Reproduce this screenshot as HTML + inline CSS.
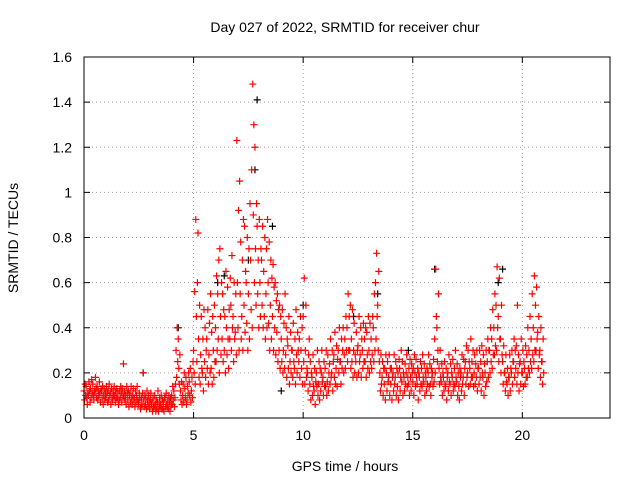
<!DOCTYPE html>
<html><head><meta charset="utf-8"><style>
html,body{margin:0;padding:0;background:#fff;}
svg{display:block;font-family:"Liberation Sans",sans-serif;}
</style></head><body>
<svg id="chart" width="640" height="480">
<text x="345" y="32" text-anchor="middle" font-size="14">Day 027 of 2022, SRMTID for receiver chur</text>
<text x="0" y="0" transform="translate(18,238) rotate(-90)" text-anchor="middle" font-size="14">SRMTID / TECUs</text>
<text x="345" y="471" text-anchor="middle" font-size="14">GPS time / hours</text>
<g id="grid"></g><g id="ticks"></g><g id="marks"></g>
<rect x="84" y="57" width="526" height="361" fill="none" stroke="#000" stroke-width="1"/>
</svg>
<script>
const xTicks=[0,5,10,15,20];
const yTicks=[0,0.2,0.4,0.6,0.8,1,1.2,1.4,1.6];
const yTickLabels=["0","0.2","0.4","0.6","0.8","1","1.2","1.4","1.6"];
const binHours=0.1;
const redBins=[
[12,8,15,10],[14,9,6,11],[10,16,12,7],[13,9,17,11],[15,10,8,12],[11,18,13,9],[14,8,12,10],[16,11,7,13],[12,9,14,6],[10,13,8,11],
[9,14,11,7],[12,8,15,10],[11,6,13,9],[8,12,10,14],[10,7,12,9],[13,9,11,6],[8,12,9,14],[11,7,13,10],[24,9,12,8],[10,6,14,11],
[8,12,5,10],[11,7,14,9],[6,10,13,8],[9,5,12,7],[10,14,8,6],[7,11,9,4],[5,9,6,11],[20,8,5,10],[6,9,4,12],[8,5,10,7],
[4,8,11,6],[7,3,9,5],[5,10,6,3],[8,4,7,12],[3,6,9,5],[6,10,4,8],[4,7,3,9],[9,5,11,6],[5,8,4,10],[7,3,9,6],
[10,6,14,8],[12,5,9,15],[30,18,40,25],[35,22,15,28],[12,8,16,6],[10,15,7,20],[13,9,18,6],[8,14,11,20],[16,10,22,7],[12,18,9,25],
[30,20,56,15],[88,45,25,60],[82,35,18,50],[15,28,45,22],[20,35,12,48],[25,40,18,30],[35,22,48,15],[28,42,20,55],[22,38,15,45],[30,18,50,25],
[40,25,63,30],[55,35,70,20],[75,45,28,60],[35,55,25,48],[30,45,20,65],[40,28,58,35],[22,48,35,62],[50,30,72,40],[45,25,60,35],[38,55,28,123],
[60,40,92,30],[105,55,78,35],[45,70,30,88],[50,85,38,65],[60,42,80,30],[55,75,35,95],[70,48,110,40],[148,90,130,60],[120,75,50,95],[85,55,70,40],
[88,60,45,75],[70,50,85,40],[65,45,80,35],[55,75,40,88],[60,42,78,30],[50,70,35,62],[45,68,30,58],[40,60,28,52],[38,55,25,48],[30,50,22,45],
[35,25,48,20],[30,42,22,55],[28,40,18,35],[32,22,45,15],[25,38,20,30],[30,18,42,25],[22,35,15,48],[28,20,38,30],[25,35,18,45],[30,22,40,15],
[45,25,62,15],[30,50,18,22],[20,12,28,35],[15,25,8,20],[18,10,28,14],[12,22,6,16],[20,14,30,10],[15,25,8,22],[12,20,30,16],[18,10,25,14],
[22,14,30,10],[16,28,12,20],[24,15,35,18],[20,30,12,25],[28,18,38,15],[22,32,14,26],[30,20,40,25],[25,15,35,22],[30,40,20,28],[35,22,45,30],
[40,25,55,30],[45,30,50,22],[35,25,48,18],[30,42,20,28],[25,38,18,30],[32,20,45,25],[28,40,18,35],[30,22,42,25],[35,25,40,18],[38,28,22,45],
[30,20,42,25],[35,22,28,45],[40,25,55,30],[60,35,73,45],[50,30,65,25],[20,12,28,15],[18,25,10,22],[15,22,8,28],[20,12,25,16],[18,28,10,22],
[15,22,8,18],[20,12,28,15],[18,25,10,22],[14,20,8,26],[22,12,18,30],[16,25,10,20],[18,12,24,15],[20,28,14,18],[15,22,10,26],[18,12,24,20],
[16,22,10,28],[20,14,26,18],[15,22,8,20],[18,12,25,15],[22,14,28,18],[16,24,10,20],[18,12,22,15],[20,28,14,24],[15,10,22,18],[20,14,26,16],
[35,20,66,45],[40,25,30,55],[22,15,30,18],[16,24,10,20],[18,12,25,15],[14,22,8,18],[20,12,28,16],[15,24,10,20],[18,26,12,15],[22,14,30,18],
[16,24,10,20],[14,8,22,18],[20,12,28,15],[18,26,10,22],[25,15,32,18],[20,30,14,25],[22,15,35,18],[25,18,30,14],[20,28,15,24],[18,30,12,22],
[22,15,30,18],[25,12,32,20],[18,28,10,24],[20,14,30,16],[25,35,18,30],[30,20,40,25],[35,22,48,28],[40,28,55,32],[50,30,67,40],[45,25,62,35],
[35,20,50,28],[25,15,32,20],[20,12,28,16],[15,22,10,18],[18,28,12,22],[20,30,15,25],[25,35,18,30],[22,32,15,50],[20,28,12,24],[25,15,35,20],
[20,30,14,25],[22,15,32,18],[28,18,40,22],[30,20,45,25],[35,22,55,28],[40,25,63,30],[50,30,58,35],[38,22,45,28],[30,18,40,25],[25,15,35,20]
];
const blackTimes=[7.9,7.8,6.4,16.0,2.7,4.3,9.0,14.8,19.1,10.0,12.3,6.1,8.6,7.5,18.9,13.4];
const blackValues=[1.41,1.1,0.63,0.66,0.2,0.4,0.12,0.3,0.66,0.5,0.45,0.6,0.85,0.7,0.6,0.55];

const X0=84,X1=610,Y0=418,Y1=57,XMAX=24,YMAX=1.6;
const sx=v=>X0+(X1-X0)*v/XMAX;
const sy=v=>Y0-(Y0-Y1)*v/YMAX;
const NS="http://www.w3.org/2000/svg";
const grid=document.getElementById('grid'),ticks=document.getElementById('ticks'),marks=document.getElementById('marks');
function mk(tag,attrs,parent){const e=document.createElementNS(NS,tag);for(const k in attrs)e.setAttribute(k,attrs[k]);parent.appendChild(e);return e;}
xTicks.forEach(t=>{
  const x=sx(t);
  if(t>0){const g=mk('line',{x1:x,x2:x,y1:Y0,y2:Y1,stroke:'#a0a0a0','stroke-dasharray':'1,3'},grid);
  
  }
  mk('line',{x1:x,x2:x,y1:Y0,y2:Y0-6,stroke:'#000'},ticks);
  mk('line',{x1:x,x2:x,y1:Y1,y2:Y1+6,stroke:'#000'},ticks);
  const tx=mk('text',{x:x,y:Y0+22,'text-anchor':'middle','font-size':'14'},ticks);
  tx.textContent=String(t);
  
  
});
yTicks.forEach((t,i)=>{
  const y=sy(t);
  if(t>0&&t<YMAX){const g=mk('line',{x1:X0,x2:X1,y1:y,y2:y,stroke:'#a0a0a0','stroke-dasharray':'1,3'},grid);
  
  }
  mk('line',{x1:X0,x2:X0+6,y1:y,y2:y,stroke:'#000'},ticks);
  mk('line',{x1:X1,x2:X1-6,y1:y,y2:y,stroke:'#000'},ticks);
  const tx=mk('text',{x:X0-12,y:y+5,'text-anchor':'end','font-size':'14'},ticks);
  tx.textContent=yTickLabels[i];
  
  
});
function plus(x,y,color,name){
  const p=mk('path',{d:`M${x-3.5},${y}h7M${x},${y-3.5}v7`,stroke:color,'stroke-width':'1.2',fill:'none'},marks);
  
  
}
blackTimes.forEach((t,i)=>plus(sx(t),sy(blackValues[i]),'#000','black-point'));
redBins.forEach((vals,i)=>{
  vals.forEach((v,k)=>{
    const t=i*binHours+k*binHours/vals.length;
    plus(sx(t),sy(v/100),'#ff0000','srmtid-point');
  });
});
</script>
</body></html>
